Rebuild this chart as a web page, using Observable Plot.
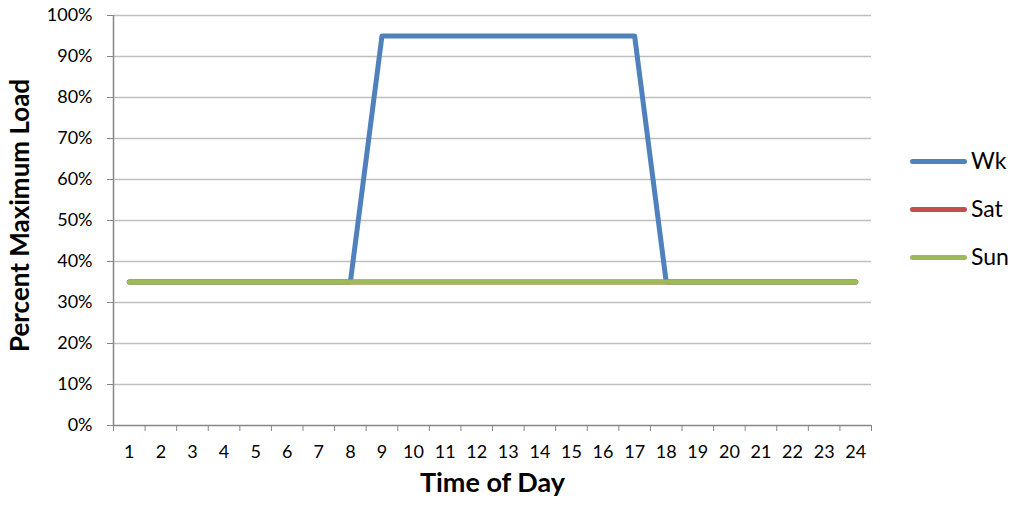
<!DOCTYPE html>
<html>
<head>
<meta charset="utf-8">
<script src="https://cdn.jsdelivr.net/npm/d3@7"></script>
<script src="https://cdn.jsdelivr.net/npm/@observablehq/plot@0.6"></script>
<style>
  html, body { margin: 0; padding: 0; background: #fff; }
  #wrap { position: relative; width: 1015px; height: 510px; font-family: Lato, "Open Sans", sans-serif; }
  #legend { position: absolute; left: 908px; top: 150px; }
  .item { position: absolute; left: 0; height: 24px; width: 110px; }
  .sw { position: absolute; left: 2px; top: 9px; width: 57px; height: 5px; border-radius: 3px; }
  .lb { position: absolute; left: 63px; top: -4px; font-size: 23px; line-height: 28px; color: #000; }
</style>
</head>
<body>
<div id="wrap"></div>
<script>
const hours = [1,2,3,4,5,6,7,8,9,10,11,12,13,14,15,16,17,18,19,20,21,22,23,24];
const wk  = [0.35,0.35,0.35,0.35,0.35,0.35,0.35,0.35,0.95,0.95,0.95,0.95,0.95,0.95,0.95,0.95,0.95,0.35,0.35,0.35,0.35,0.35,0.35,0.35];
const sat = [0.35,0.35,0.35,0.35,0.35,0.35,0.35,0.35,0.35,0.35,0.35,0.35,0.35,0.35,0.35,0.35,0.35,0.35,0.35,0.35,0.35,0.35,0.35,0.35];
const sun = [0.35,0.35,0.35,0.35,0.35,0.35,0.35,0.35,0.35,0.35,0.35,0.35,0.35,0.35,0.35,0.35,0.35,0.35,0.35,0.35,0.35,0.35,0.35,0.35];
const seriesNames = ["Wk", "Sat", "Sun"];
const seriesColors = ["#4F81BD", "#C0504D", "#9BBB59"];
const yTicks = [0,0.1,0.2,0.3,0.4,0.5,0.6,0.7,0.8,0.9,1.0];
const xTitle = "Time of Day";
const yTitle = "Percent Maximum Load";

const seriesValues = [wk, sat, sun];
const rows = [];
seriesNames.forEach((s, i) => hours.forEach((h, j) => rows.push({series: s, hour: h, value: seriesValues[i][j]})));
const bounds = hours.map(h => h - 0.5).concat([hours[hours.length - 1] + 0.5]);
const pct = d3.format(".0%");

const chart = Plot.plot({
  width: 1015,
  height: 510,
  marginLeft: 113,
  marginRight: 144,
  marginTop: 15,
  marginBottom: 85,
  style: {fontFamily: "Lato, 'Open Sans', sans-serif", fontSize: "18px", color: "#000", background: "#fff"},
  x: {type: "linear", domain: [0.5, 24.5], axis: null},
  y: {domain: [0, 1], axis: null},
  color: {domain: seriesNames, range: seriesColors},
  marks: [
    Plot.ruleY(yTicks.filter(d => d > 0), {stroke: "#BFBFBF", strokeWidth: 1.3, x1: 0.5, x2: 24.5}),
    Plot.ruleX([0.5], {y1: 0, y2: 1, stroke: "#868686", strokeWidth: 1.5}),
    Plot.ruleY([0], {stroke: "#868686", strokeWidth: 1.5}),
    Plot.axisY({ticks: yTicks, tickFormat: () => "", tickSize: 6, stroke: "#868686", label: null}),
    Plot.text(yTicks, {x: 0.5, y: d => d, text: d => pct(d), textAnchor: "end", dx: -21, fontSize: 18, fill: "#000"}),
    Plot.axisX({ticks: bounds, tickFormat: () => "", tickSize: 6, stroke: "#868686", label: null}),
    Plot.text(hours, {x: d => d, y: 0, text: d => String(d), dy: 27, fontSize: 18, fill: "#000"}),
    Plot.line(rows, {x: "hour", y: "value", z: "series", stroke: "series", strokeWidth: 5, strokeLinejoin: "round", strokeLinecap: "round"}),
    Plot.text([xTitle], {frameAnchor: "bottom", dy: 66, fontSize: 27, fontWeight: "bold"}),
    Plot.text([yTitle], {frameAnchor: "left", textAnchor: "middle", dx: -93, dy: -5, rotate: -90, fontSize: 26, fontWeight: "bold"})
  ]
});
const wrap = document.getElementById("wrap");
wrap.appendChild(chart);

const legend = document.createElement("div");
legend.id = "legend";
seriesNames.forEach((s, i) => {
  const item = document.createElement("div");
  item.className = "item";
  item.style.top = (i * 48) + "px";
  const sw = document.createElement("div");
  sw.className = "sw";
  sw.style.background = seriesColors[i];
  const lb = document.createElement("div");
  lb.className = "lb";
  lb.textContent = s;
  item.appendChild(sw);
  item.appendChild(lb);
  legend.appendChild(item);
});
wrap.appendChild(legend);
</script>
</body>
</html>
